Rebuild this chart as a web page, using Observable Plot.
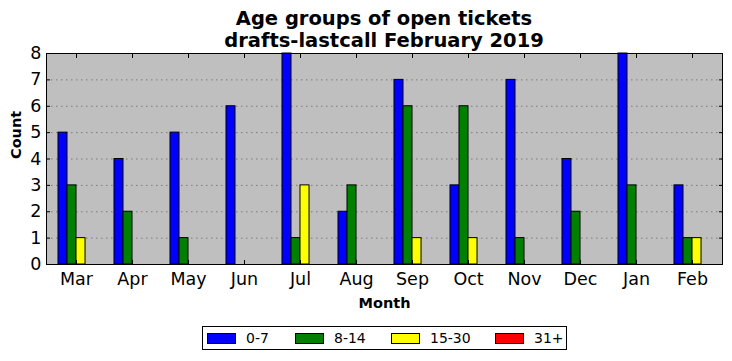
<!DOCTYPE html>
<html>
<head>
<meta charset="utf-8">
<script src="https://cdn.jsdelivr.net/npm/d3@7"></script>
<script src="https://cdn.jsdelivr.net/npm/@observablehq/plot@0.6"></script>
<style>
  body { margin: 0; background: #fff; font-family: "DejaVu Sans", sans-serif; }
  #wrap { position: relative; width: 732px; height: 361px; overflow: hidden; }
  #title { position: absolute; left: 46px; width: 676px; top: 8px; text-align: center;
           font-weight: bold; font-size: 19.5px; line-height: 22px; color: #000; }
  #chart { position: absolute; left: 0; top: 0; }
  #legend { position: absolute; left: 202px; top: 326px; width: 363px; height: 22px;
            border: 1px solid #000; background: #fff; font-size: 14px; }
  .item { position: absolute; top: 0; height: 22px; display: flex; align-items: center; }
  .sw { width: 27px; height: 9px; border: 1px solid #000; margin-right: 10px; }
</style>
</head>
<body>
<div id="wrap">
  <div id="title">Age groups of open tickets<br>drafts-lastcall February 2019</div>
  <div id="chart"></div>
  <div id="legend"></div>
</div>
<script>
const months = ["Mar", "Apr", "May", "Jun", "Jul", "Aug", "Sep", "Oct", "Nov", "Dec", "Jan", "Feb"];
const series = ["0-7", "8-14", "15-30", "31+"];
const colors = ["#0000ff", "#008000", "#ffff00", "#ff0000"];
const age0to7   = [5, 4, 5, 6, 8, 2, 7, 3, 7, 4, 8, 3];
const age8to14  = [3, 2, 1, 0, 1, 3, 6, 6, 1, 2, 3, 1];
const age15to30 = [1, 0, 0, 0, 3, 0, 1, 1, 0, 0, 0, 1];
const age31plus = [0, 0, 0, 0, 0, 0, 0, 0, 0, 0, 0, 0];
const yTicks = [0, 1, 2, 3, 4, 5, 6, 7, 8];

const values = [age0to7, age8to14, age15to30, age31plus];
const data = months.flatMap((m, i) => series.map((s, j) => ({month: m, series: s, count: values[j][i]})));

const barW = 9;
const chart = Plot.plot({
  width: 732,
  height: 320,
  marginTop: 53,
  marginBottom: 56,
  marginLeft: 46,
  marginRight: 10,
  style: {fontFamily: "DejaVu Sans, sans-serif", fontSize: "17px", color: "#000", background: "transparent"},
  x: {type: "band", domain: months, paddingInner: 0.36, paddingOuter: 0.18, label: null},
  y: {domain: [0, 8], ticks: yTicks, label: null},
  marks: [
    Plot.frame({fill: "#bfbfbf"}),
    Plot.gridY(yTicks, {stroke: "#000", strokeOpacity: 0.45, strokeDasharray: "1.5,3.5", strokeWidth: 0.8}),
    ...series.map((s, j) => Plot.barY(data.filter(d => d.series === s), {
      x: "month", y: "count", fill: colors[j], stroke: "#000", strokeWidth: 1,
      insetLeft: j * barW, insetRight: (3 - j) * barW
    })),
    Plot.frame({stroke: "#000", strokeWidth: 1}),
    Plot.axisY(yTicks, {anchor: "left", tickSize: -4, tickPadding: 9, label: null, fontSize: 17.5}),
    Plot.axisY(yTicks, {anchor: "right", tickSize: -4, tickFormat: () => "", label: null}),
    Plot.axisX(months, {anchor: "bottom", tickSize: -4, tickPadding: 12, label: null, fontSize: 17.5}),
    Plot.axisX(months, {anchor: "top", tickSize: -4, tickFormat: () => "", label: null}),
    Plot.text(["Month"], {frameAnchor: "bottom", dy: 43, fontWeight: "bold", fontSize: 14.5, text: d => d}),
    Plot.text(["Count"], {frameAnchor: "left", dx: -30, rotate: -90, fontWeight: "bold", fontSize: 14.5, text: d => d})
  ]
});
document.getElementById("chart").appendChild(chart);

const legend = document.getElementById("legend");
const lefts = [4, 92, 188, 292];
series.forEach((s, j) => {
  const it = document.createElement("div");
  it.className = "item";
  it.style.left = lefts[j] + "px";
  it.innerHTML = `<div class="sw" style="background:${colors[j]}"></div><span>${s}</span>`;
  legend.appendChild(it);
});
</script>
</body>
</html>
